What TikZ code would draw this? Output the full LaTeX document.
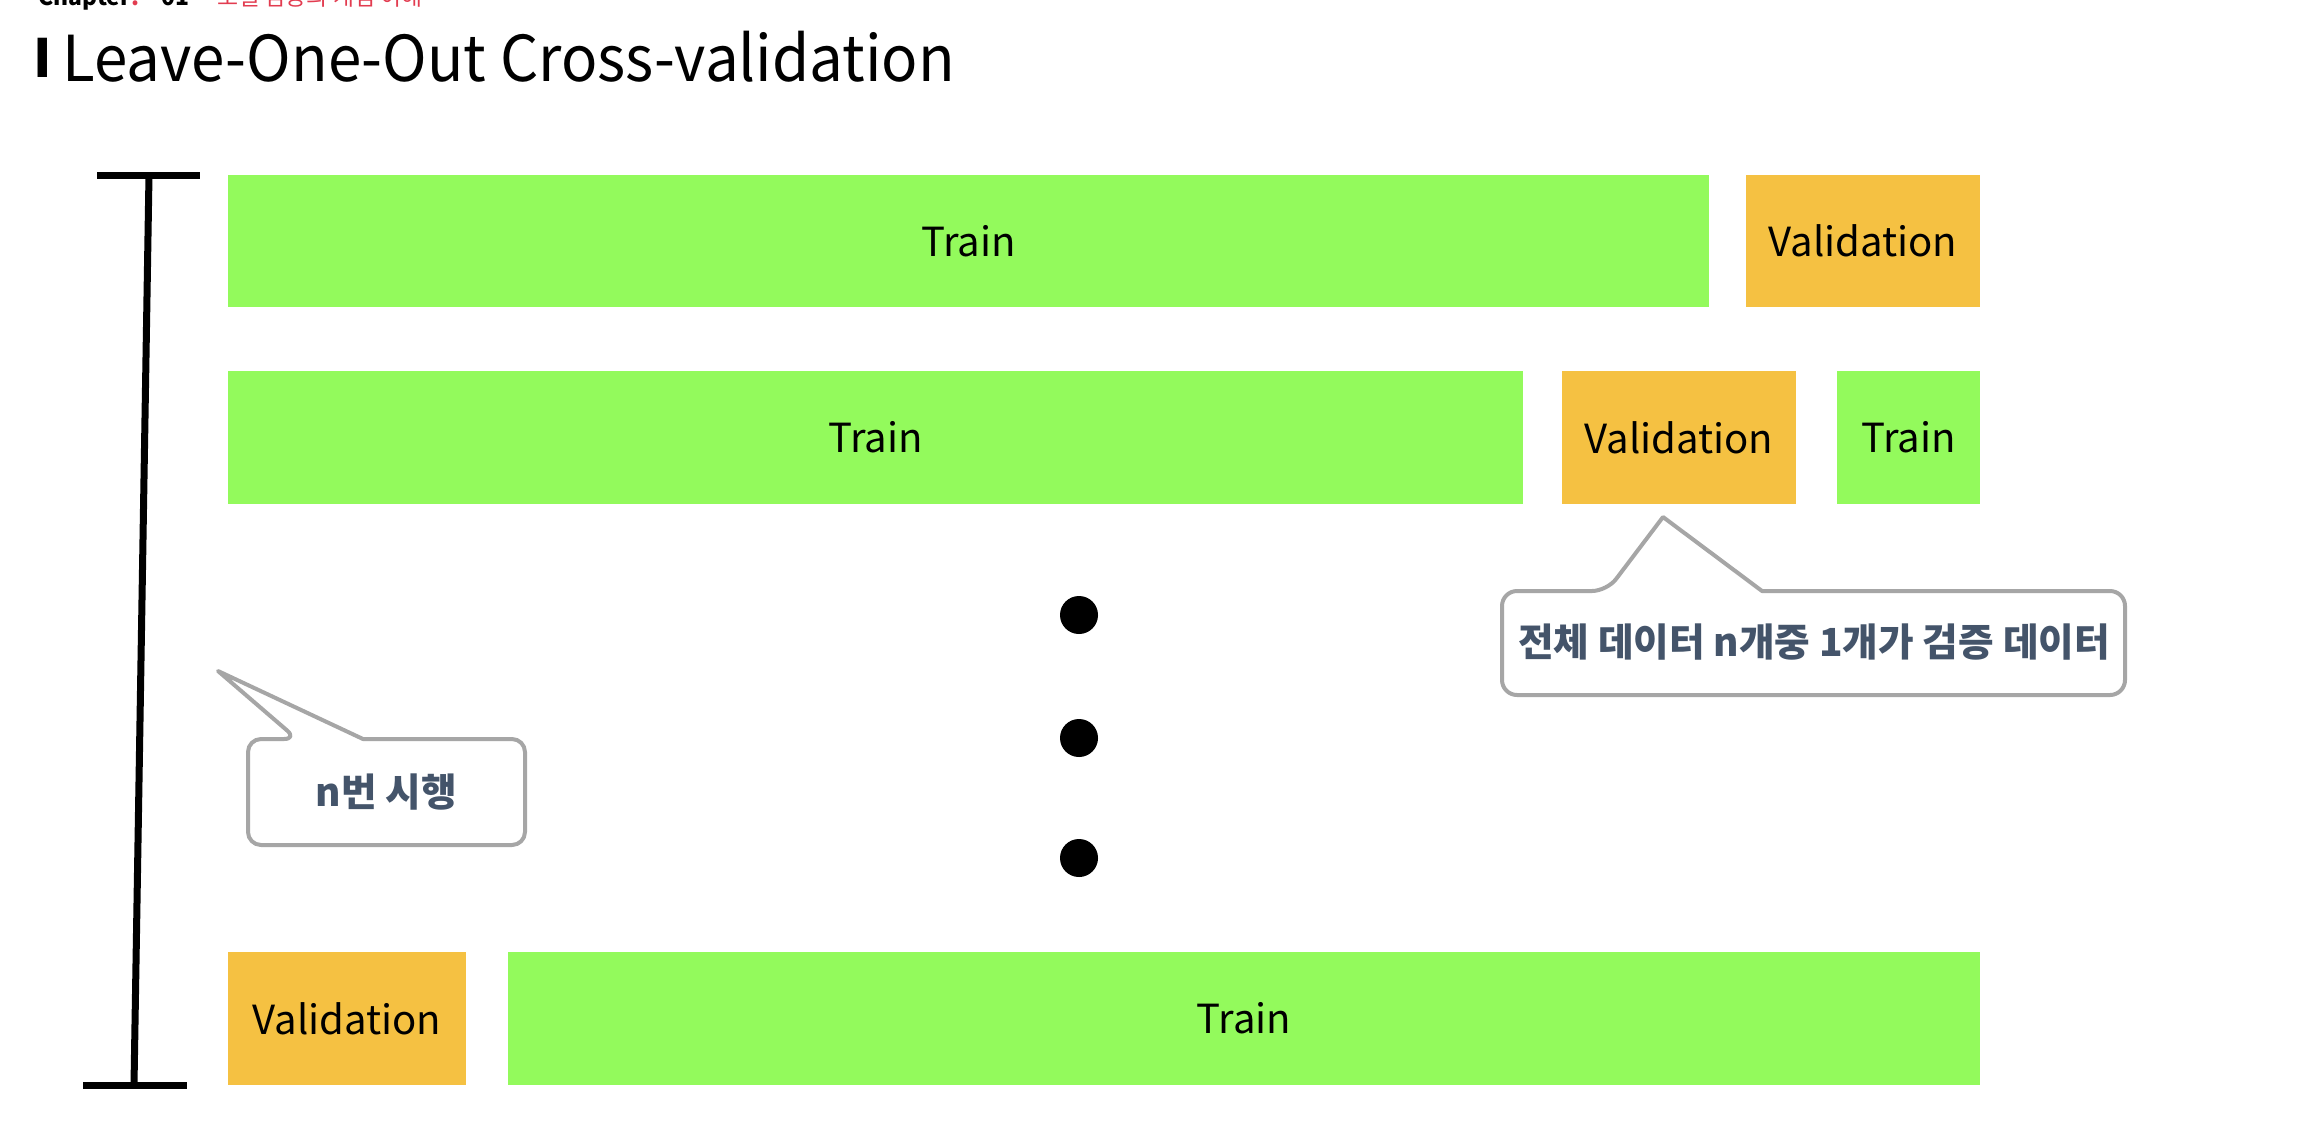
\documentclass[tikz,border=0pt]{standalone}
\usepackage{fontspec}
\setmainfont{Noto Sans CJK KR}
\newfontfamily\titlefont[FakeStretch=0.95]{Noto Sans CJK KR}

\definecolor{traingreen}{RGB}{147,250,92}
\definecolor{valorange}{RGB}{245,193,66}
\definecolor{calloutgray}{RGB}{166,166,166}
\definecolor{callouttext}{RGB}{68,84,106}
\definecolor{chapred}{RGB}{226,60,80}

\tikzset{
  trainbox/.style={fill=traingreen, minimum height=1.32cm, inner sep=0pt,
    font=\fontsize{11.4}{13}\selectfont},
  valbox/.style={trainbox, fill=valorange},
  dotmark/.style={circle, fill=black, minimum size=0.38cm, inner sep=0pt},
  callout/.style={draw=calloutgray, fill=white, line width=0.04cm, line join=round},
  callouttxt/.style={text=callouttext, font=\fontsize{11}{13}\selectfont\bfseries},
}

\begin{document}
\begin{tikzpicture}[x=0.01cm, y=-0.01cm]
\useasboundingbox (0,0) rectangle (2318,1136);
\clip (0,0) rectangle (2318,1136);

% header
\node[anchor=base west, inner sep=0pt, font=\fontsize{6.5}{7}\selectfont\bfseries] (chap) at (38,5) {Chapter\textcolor{chapred}{.}\quad 01};
\node[anchor=base west, inner sep=0pt, text=chapred, font=\fontsize{6.5}{7}\selectfont] (chaptitle) at (217,5) {모델 검증의 개념 이해};
\node[anchor=base west, inner sep=0pt, font=\fontsize{15}{17}\selectfont\bfseries] (bar) at (33,77) {I};
\node[anchor=base west, inner sep=0pt, font=\fontsize{18}{21}\selectfont\titlefont] (title) at (62,81) {Leave-One-Out Cross-validation};

% n times
\draw[line width=0.07cm] (97,175.5) -- (200,175.5);
\draw[line width=0.07cm] (149,175.5) -- (134,1085);
\draw[line width=0.07cm] (83,1085) -- (187,1085);

% row 1
\node[trainbox, minimum width=14.81cm] (train1) at (968.5,241) {Train};
\node[valbox, minimum width=2.34cm] (val1) at (1863,241) {Validation};
% row 2
\node[trainbox, minimum width=12.95cm] (train2a) at (875.5,437.5) {Train};
\node[valbox, minimum width=2.34cm] (val2) at (1679,437.5) {Validation};
\node[trainbox, minimum width=1.43cm] (train2b) at (1908.5,437.5) {Train};
% row n
\node[valbox, minimum width=2.38cm] (valn) at (347,1018.5) {Validation};
\node[trainbox, minimum width=14.72cm] (trainn) at (1244,1018.5) {Train};

% dots
\node[dotmark] (dot1) at (1079,615) {};
\node[dotmark] (dot2) at (1079,738) {};
\node[dotmark] (dot3) at (1079,858) {};

% callouts
\draw[callout] (218,671) -- (363,739) [rounded corners=0.13cm] -- (525,739) -- (525,845)
  -- (248,845) -- (248,739) -- (297,739) [sharp corners] -- cycle;
\node[callouttxt] (runs) at (386.5,792) {n번 시행};

\draw[callout] (1663,517) -- (1762,591) [rounded corners=0.15cm] -- (2125,591) -- (2125,695)
  -- (1502,695) -- (1502,591) -- (1607,591) [sharp corners] -- cycle;
\node[callouttxt] (onevalid) at (1814,642) {전체 데이터 n개중 1개가 검증 데이터};
\end{tikzpicture}
\end{document}
